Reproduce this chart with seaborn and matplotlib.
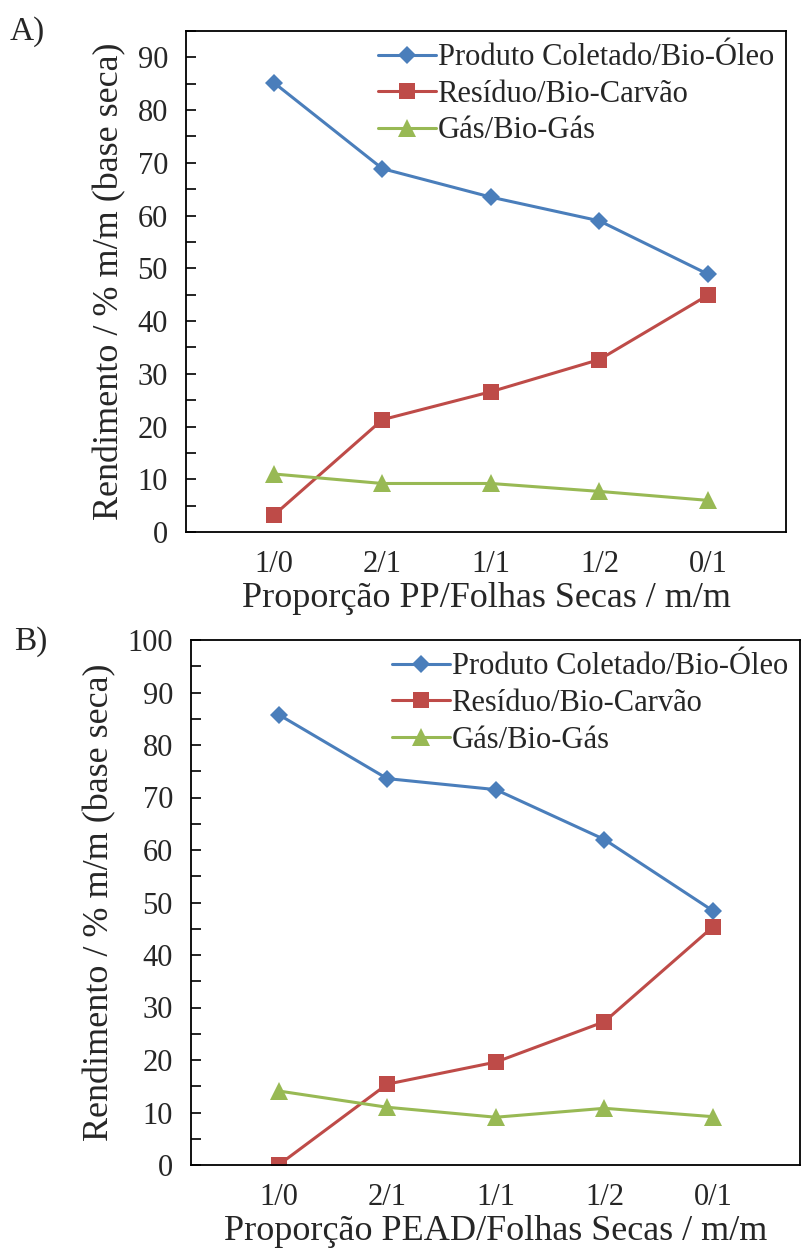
import matplotlib
matplotlib.use('Agg')
import pandas as pd
import matplotlib.pyplot as plt
from matplotlib.ticker import MultipleLocator
import seaborn as sns

# Category labels (mass ratio plastic / dry leaves)
ratios = ['1/0', '2/1', '1/1', '1/2', '0/1']
series_names = ['Produto Coletado/Bio-Óleo', 'Resíduo/Bio-Carvão', 'Gás/Bio-Gás']

# Panel A: PP / Folhas Secas
pp_oleo = [85.2, 68.9, 63.5, 59.0, 48.9]
pp_carvao = [3.2, 21.3, 26.6, 32.7, 44.9]
pp_gas = [11.0, 9.2, 9.2, 7.7, 6.0]

# Panel B: PEAD / Folhas Secas
pead_oleo = [85.8, 73.6, 71.5, 62.0, 48.4]
pead_carvao = [0.0, 15.4, 19.6, 27.3, 45.4]
pead_gas = [14.1, 11.0, 9.1, 10.8, 9.2]

colors = ['#4A7EBB', '#BE4B48', '#98B954']
marker_list = ['D', 's', '^']
marker_sizes = [9, 11, 12.5]


def long_table(oleo, carvao, gas):
    rows = []
    for name, vals in zip(series_names, [oleo, carvao, gas]):
        for r, v in zip(ratios, vals):
            rows.append({'ratio': r, 'serie': name, 'rend': v})
    return pd.DataFrame(rows)


def draw_panel(ax, df, xlabel, ymax, xlim):
    sns.lineplot(data=df, x='ratio', y='rend', hue='serie', style='serie',
                 palette=dict(zip(series_names, colors)),
                 markers=dict(zip(series_names, marker_list)),
                 dashes=False, sort=False, linewidth=2.2,
                 markersize=10, markeredgewidth=0, ax=ax)
    # per-series marker size (Excel-like)
    for line, ms in zip(ax.lines, marker_sizes):
        line.set_markersize(ms)
    ax.set_xlim(*xlim)
    ax.set_ylim(0, ymax)
    ax.yaxis.set_major_locator(MultipleLocator(10))
    ax.yaxis.set_minor_locator(MultipleLocator(5))
    ax.tick_params(axis='y', which='both', direction='in', length=7,
                   width=1.2, labelsize=22, pad=13, color='black')
    ax.tick_params(axis='x', length=0, labelsize=22, pad=13)
    for s in ax.spines.values():
        s.set_visible(True)
        s.set_color('black')
        s.set_linewidth(1.3)
    ax.set_xlabel(xlabel, fontsize=26, labelpad=2)
    ax.set_ylabel('Rendimento / % m/m (base seca)', fontsize=26, labelpad=8)
    sns.move_legend(ax, 'upper right', title=None, frameon=False,
                    fontsize=22, handlelength=1.9, handletextpad=0.05,
                    labelspacing=0.25, borderaxespad=0.2, borderpad=0.2)
    for h, ms in zip(ax.get_legend().legend_handles, marker_sizes):
        h.set_markersize(ms)


sns.set_theme(style='ticks')
plt.rcParams['font.family'] = ['Liberation Serif', 'DejaVu Serif']

fig = plt.figure(figsize=(8.01, 12.52), dpi=100)
W, H = 801, 1252

ax_a = fig.add_axes([186 / W, 1 - 532 / H, 600 / W, 501 / H])
ax_b = fig.add_axes([191 / W, 1 - 1165 / H, 609 / W, 525 / H])

draw_panel(ax_a, long_table(pp_oleo, pp_carvao, pp_gas),
           'Proporção PP/Folhas Secas / m/m', 95, (-0.81, 4.72))
draw_panel(ax_b, long_table(pead_oleo, pead_carvao, pead_gas),
           'Proporção PEAD/Folhas Secas / m/m', 100, (-0.806, 4.80))

fig.text(10 / W, 1 - 40 / H, 'A)', fontsize=24, va='baseline')
fig.text(14 / W, 1 - 650 / H, 'B)', fontsize=24, va='baseline')

fig.savefig('out.png', dpi=100)
